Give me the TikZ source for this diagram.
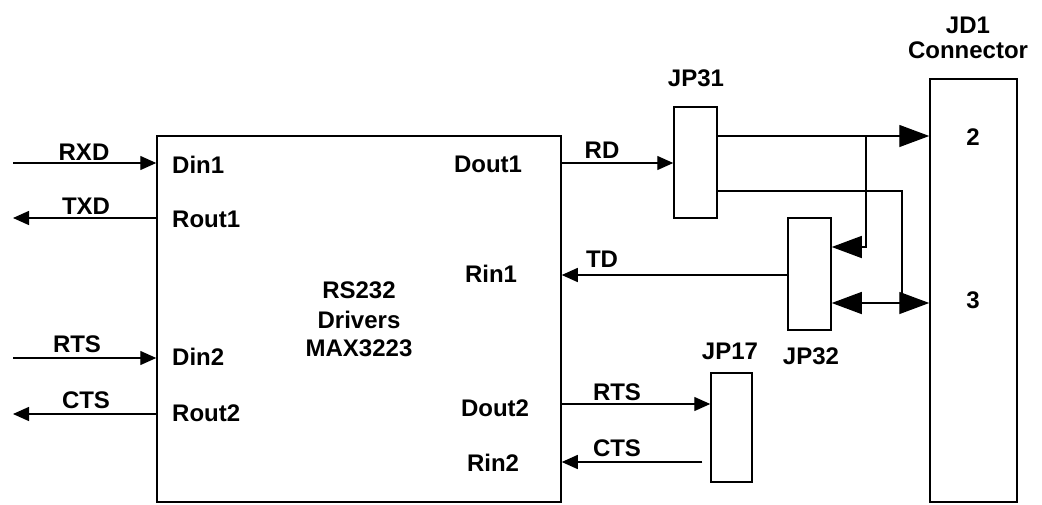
\documentclass[tikz,border=0pt]{standalone}
\usepackage{fontspec}
\setmainfont{Liberation Sans}
\usetikzlibrary{arrows.meta}
\begin{document}
\begin{tikzpicture}[x=1pt,y=-1pt,
  box/.style={draw,line width=1.5pt,minimum width=#1,inner sep=0pt},
  lbl/.style={font=\fontsize{24}{27}\selectfont\bfseries,inner sep=0pt},
  wire/.style={line width=1.4pt},
  sarr/.style={wire,-{Triangle[length=16pt,width=14pt]}},
  barr/.style={wire,-{Triangle[length=30pt,width=22pt]}},
  dbarr/.style={wire,{Triangle[length=30pt,width=22pt]}-{Triangle[length=30pt,width=22pt]}}]
\useasboundingbox (0,0) rectangle (1042,504);
% boxes
\node[box=404pt,minimum height=366pt] (main) at (359,319) {};
\node[box=43pt,minimum height=111pt] (jp31) at (695.5,162.5) {};
\node[box=43pt,minimum height=112pt] (jp32) at (809.5,274) {};
\node[box=41pt,minimum height=109pt] (jp17) at (731.5,427.5) {};
\node[box=87pt,minimum height=423pt] (jd1) at (973.5,290.5) {};
% free ends
\coordinate (rxdin) at (13,163);
\coordinate (txdout) at (13,218);
\coordinate (rtsin) at (13,358);
\coordinate (ctsout) at (13,414);
\coordinate (br1) at (866,136);
\coordinate (br2) at (902,191);
\coordinate (br2b) at (902,303);
% left connectors
\draw[sarr] (rxdin) -- (main.west |- rxdin);
\draw[sarr] (main.west |- txdout) -- (txdout);
\draw[sarr] (rtsin) -- (main.west |- rtsin);
\draw[sarr] (main.west |- ctsout) -- (ctsout);
% right connectors
\draw[sarr] (main.east |- 0,163) -- (jp31.west |- 0,163);
\draw[barr] (jp31.east |- br1) -- (jd1.west |- br1);
\draw[barr] (br1) -- (br1 |- 0,247) -- (jp32.east |- 0,247);
\draw[wire] (jp31.east |- br2) -- (br2) -- (br2b);
\draw[dbarr] (jp32.east |- br2b) -- (jd1.west |- br2b);
\draw[sarr] (jp32.west |- 0,275) -- (main.east |- 0,275);
\draw[sarr] (main.east |- 0,404) -- (jp17.west |- 0,404);
\draw[sarr,shorten <=8pt] (jp17.west |- 0,462) -- (main.east |- 0,462);
% labels
\node[lbl] (lrxd) at (84,152) {RXD};
\node[lbl] (ltxd) at (86,206) {TXD};
\node[lbl] (lrts) at (77,344) {RTS};
\node[lbl] (lcts) at (86,400) {CTS};
\node[lbl,anchor=west] (ldin1) at (172,165) {Din1};
\node[lbl,anchor=west] (lrout1) at (172,219) {Rout1};
\node[lbl,anchor=west] (ldin2) at (172,357) {Din2};
\node[lbl,anchor=west] (lrout2) at (172,413) {Rout2};
\node[lbl] (ldout1) at (488,164) {Dout1};
\node[lbl] (lrin1) at (491,274) {Rin1};
\node[lbl] (ldout2) at (495,408) {Dout2};
\node[lbl] (lrin2) at (493,463) {Rin2};
\node[lbl] (lrs) at (359,290) {RS232};
\node[lbl] (ldrv) at (359,320) {Drivers};
\node[lbl] (lmax) at (359,348) {MAX3223};
\node[lbl] (lrd) at (602,150) {RD};
\node[lbl] (ltd) at (602,259) {TD};
\node[lbl] (lrts2) at (617,392) {RTS};
\node[lbl] (lcts2) at (617,448) {CTS};
\node[lbl] (ljp31) at (696,78) {JP31};
\node[lbl] (ljp17) at (730,351) {JP17};
\node[lbl] (ljp32) at (811,356) {JP32};
\node[lbl] (ljd1) at (968,25) {JD1};
\node[lbl] (lconn) at (968,50) {Connector};
\node[lbl] (lp2) at (973,137) {2};
\node[lbl] (lp3) at (973,300) {3};
\end{tikzpicture}
\end{document}
